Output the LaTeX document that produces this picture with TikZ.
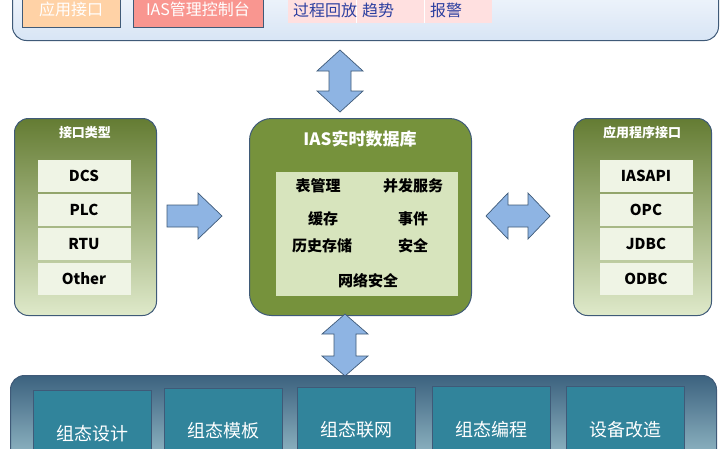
\documentclass[tikz,border=0pt]{standalone}
\usepackage{fontspec}
\setmainfont{Noto Sans CJK SC}
\definecolor{olive}{HTML}{76923C}
\definecolor{oliveL}{HTML}{D7E4BD}
\definecolor{teal}{HTML}{31849B}
\definecolor{arr}{HTML}{8EB4E3}
\definecolor{bord}{HTML}{3F5A78}
\tikzset{
 panel/.style={draw=bord,line width=1pt,rounded corners=14pt},
 item/.style={fill=oliveL!40!white,minimum width=93pt,minimum height=32pt,font=\bfseries\fontsize{15}{15}\selectfont},
 tbox/.style={draw=bord,line width=1pt,fill=teal,text=white,minimum width=118pt,minimum height=70pt,text depth=0pt},
 lbl/.style={font=\bfseries\fontsize{15}{15}\selectfont},
 ttl/.style={text=white,font=\bfseries\fontsize{15}{15}\selectfont},
 blk/.style={draw=bord,fill=arr,line width=0.7pt,line join=miter},
}
\begin{document}
\begin{tikzpicture}[x=1pt,y=-1pt]
\useasboundingbox (0,0) rectangle (724,448);
\clip (0,0) rectangle (724,448);
% top panel
\node[panel,top color=white,bottom color=arr!35!white,minimum width=706pt,minimum height=80pt,anchor=south west] (top) at (12,41) {};
\node[draw=bord,line width=1pt,fill=orange!35!white,minimum width=98pt,minimum height=50pt,anchor=south west] (app) at (22,28) {};
\node[text=white,font=\fontsize{16}{16}\selectfont] (appt) at (71,9) {应用接口};
\node[draw=bord,line width=1pt,fill=red!40!white!90!brown,minimum width=130pt,minimum height=50pt,anchor=south west] (ias) at (133,28) {};
\node[text=white,font=\fontsize{16}{16}\selectfont] (iast) at (198,9) {IAS管理控制台};
\node[fill=red!12!white,minimum width=204pt,minimum height=40pt,anchor=south west] (tab) at (288,23) {};
\draw[white,line width=1pt] (356,-20) -- (356,23) (424,-20) -- (424,23);
\node[text=bord!70!blue,font=\fontsize{16}{16}\selectfont] (t1) at (325,10) {过程回放};
\node[text=bord!70!blue,font=\fontsize{16}{16}\selectfont] (t2) at (378,10) {趋势};
\node[text=bord!70!blue,font=\fontsize{16}{16}\selectfont] (t3) at (446,10) {报警};
% left panel
\node[panel,top color=olive!85!black,bottom color=oliveL!80!white,minimum width=142pt,minimum height=197pt,anchor=north west] (lp) at (14,118) {};
\node[ttl,font=\bfseries\fontsize{13}{13}\selectfont] (lpt) at (85,133) {接口类型};
\node[item] (dcs) at (84,176) {DCS};
\node[item] (plc) at (84,210) {PLC};
\node[item] (rtu) at (84,244) {RTU};
\node[item] (oth) at (84,279) {Other};
% center
\node[panel,fill=olive,minimum width=222pt,minimum height=197pt,anchor=north west,rounded corners=22pt] (cp) at (249,118) {};
\node[ttl,font=\bfseries\fontsize{17}{17}\selectfont] (cpt) at (360,139) {IAS实时数据库};
\node[fill=oliveL,minimum width=182pt,minimum height=124pt,anchor=north west] (inner) at (276,172) {};
\node[lbl] at (318,186) {表管理};
\node[lbl] at (413,186) {并发服务};
\node[lbl] at (323,219) {缓存};
\node[lbl] at (413,219) {事件};
\node[lbl] at (322,246) {历史存储};
\node[lbl] at (413,246) {安全};
\node[lbl] at (368,281) {网络安全};
% right panel
\node[panel,top color=olive!85!black,bottom color=oliveL!80!white,minimum width=138pt,minimum height=197pt,anchor=north west] (rp) at (573,118) {};
\node[ttl,font=\bfseries\fontsize{13}{13}\selectfont] (rpt) at (642,133) {应用程序接口};
\node[item] (api) at (646,176) {IASAPI};
\node[item] (opc) at (646,210) {OPC};
\node[item] (jdbc) at (646,244) {JDBC};
\node[item] (odbc) at (646,279) {ODBC};
% block arrows
\draw[blk] (167,205) -- (198,205) -- (198,193) -- (222,216) -- (198,239) -- (198,227) -- (167,227) -- cycle;
\draw[blk] (486,216) -- (508,193) -- (508,205) -- (528,205) -- (528,193) -- (550,216) -- (528,239) -- (528,227) -- (508,227) -- (508,239) -- cycle;
\draw[blk] (340,50) -- (363,71) -- (351,71) -- (351,91) -- (363,91) -- (340,112) -- (317,91) -- (329,91) -- (329,71) -- (317,71) -- cycle;
\draw[blk] (345,314) -- (368,334) -- (356,334) -- (356,356) -- (368,356) -- (345,376) -- (322,356) -- (334,356) -- (334,334) -- (322,334) -- cycle;
% bottom panel
\node[panel,top color=bord!80!teal,bottom color=teal!45!white,minimum width=706pt,minimum height=100pt,anchor=north west] (bp) at (10,375) {};
\node[tbox,anchor=north west] (b1) at (33,390) {};
\node[tbox,anchor=north west] (b2) at (164,388) {};
\node[tbox,anchor=north west] (b3) at (297,387) {};
\node[tbox,anchor=north west] (b4) at (432,386) {};
\node[tbox,anchor=north west] (b5) at (566,386) {};
\foreach \n/\t/\y in {b1/组态设计/434,b2/组态模板/431,b3/组态联网/430,b4/组态编程/430,b5/设备改造/430}
  \node[text=white,font=\fontsize{18}{18}\selectfont] at (\n.center |- 0,\y) {\t};
\end{tikzpicture}
\end{document}
